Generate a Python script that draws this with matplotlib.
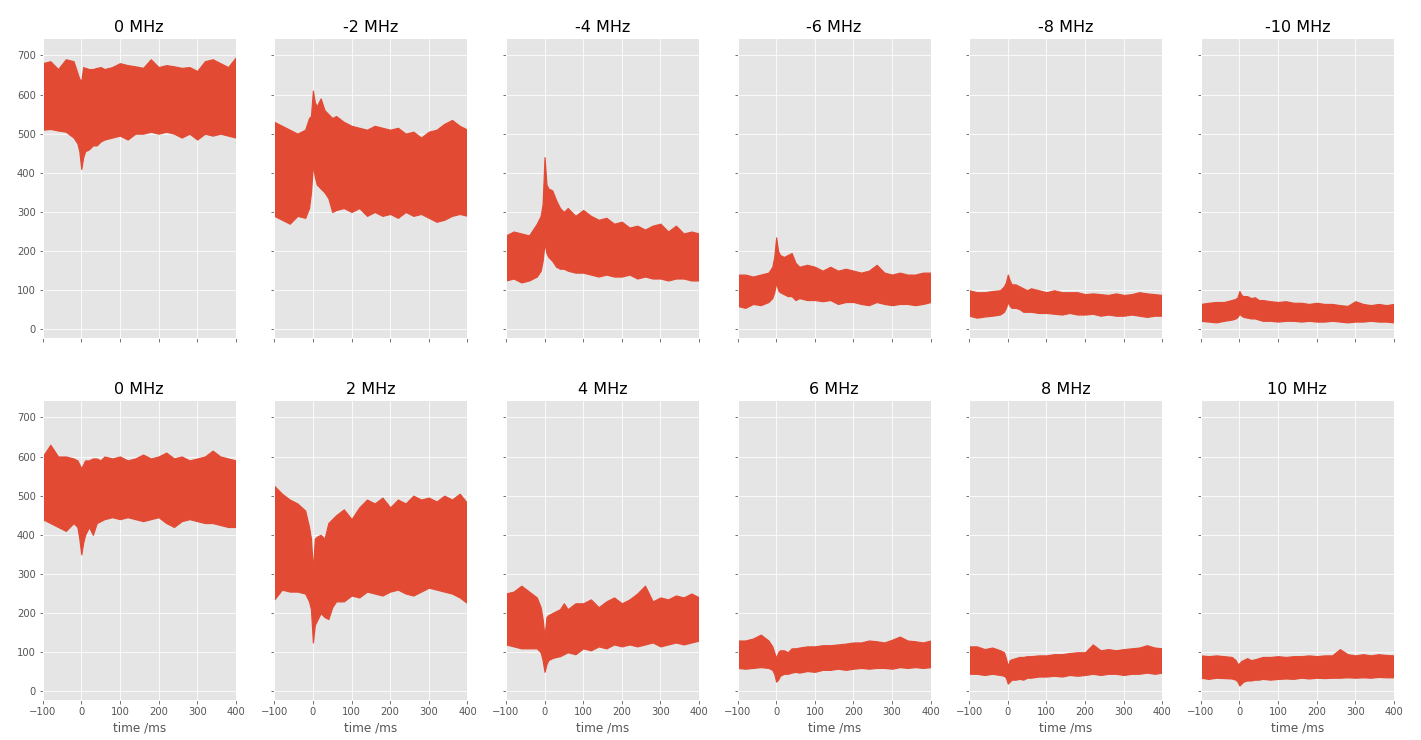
import numpy as np
import matplotlib.pyplot as plt

plt.style.use('ggplot')

# sample times (ms) at which the noise band edges were read
t = [-100, -80, -60, -40, -20, -10, -5, 0, 5, 10, 20, 30, 40, 50, 60, 80,
     100, 120, 140, 160, 180, 200, 220, 240, 260, 280, 300, 320, 340, 360, 380, 400]

# top row: 0, -2, ..., -10 MHz  (upper / lower edge of the trace)
up_n0 = [680, 685, 665, 690, 685, 655, 640, 635, 670, 668, 665, 665, 668, 670, 665, 670,
         680, 675, 672, 668, 690, 670, 675, 672, 668, 670, 660, 685, 690, 680, 670, 695]
lo_n0 = [510, 512, 508, 505, 490, 475, 455, 410, 440, 455, 460, 470, 470, 480, 485, 490,
         495, 485, 500, 500, 505, 500, 505, 500, 490, 500, 485, 500, 495, 500, 495, 490]
up_n2 = [530, 520, 510, 500, 510, 540, 545, 610, 580, 570, 590, 560, 550, 540, 545, 530,
         520, 515, 510, 520, 515, 510, 515, 500, 505, 490, 505, 510, 525, 535, 520, 510]
lo_n2 = [290, 280, 270, 290, 285, 310, 350, 420, 390, 370, 360, 350, 335, 300, 305, 310,
         300, 310, 290, 300, 290, 295, 285, 300, 290, 295, 285, 275, 280, 290, 295, 290]
up_n4 = [240, 250, 245, 240, 270, 290, 320, 440, 370, 360, 355, 330, 310, 300, 310, 290,
         305, 290, 280, 285, 270, 275, 260, 265, 255, 265, 270, 250, 265, 245, 250, 245]
lo_n4 = [125, 130, 120, 125, 135, 150, 175, 220, 195, 185, 175, 160, 155, 155, 150, 145,
         145, 140, 135, 140, 135, 135, 140, 130, 135, 130, 130, 125, 130, 130, 125, 125]
up_n6 = [140, 140, 135, 140, 145, 160, 185, 235, 200, 190, 185, 190, 195, 170, 160, 165,
         160, 150, 160, 150, 155, 150, 145, 150, 165, 145, 140, 145, 140, 140, 145, 145]
lo_n6 = [60, 55, 65, 62, 70, 80, 95, 120, 100, 95, 90, 85, 85, 75, 80, 75,
         75, 72, 75, 65, 70, 70, 65, 62, 70, 65, 62, 65, 65, 62, 65, 70]
up_n8 = [100, 95, 95, 98, 100, 110, 120, 140, 125, 115, 115, 110, 105, 100, 105, 100,
         95, 100, 95, 95, 95, 90, 92, 90, 88, 92, 88, 90, 95, 92, 90, 88]
lo_n8 = [35, 30, 33, 35, 38, 45, 55, 70, 60, 55, 55, 52, 45, 45, 45, 42,
         42, 40, 38, 42, 38, 38, 40, 35, 38, 35, 35, 38, 35, 32, 35, 35]
up_n10 = [65, 68, 70, 70, 75, 78, 82, 98, 88, 85, 85, 80, 82, 75, 75, 72,
          70, 72, 68, 68, 65, 68, 65, 65, 62, 60, 72, 65, 62, 65, 62, 65]
lo_n10 = [22, 20, 18, 22, 25, 28, 32, 40, 35, 32, 30, 28, 28, 25, 22, 22,
          20, 22, 22, 20, 22, 20, 20, 22, 20, 18, 20, 20, 22, 20, 20, 18]

# bottom row: 0, 2, ..., 10 MHz
up_p0 = [600, 630, 600, 600, 595, 590, 580, 570, 580, 590, 590, 595, 595, 590, 600, 595,
         600, 590, 595, 605, 595, 600, 610, 595, 600, 590, 595, 600, 615, 600, 595, 590]
lo_p0 = [440, 430, 420, 410, 430, 420, 390, 350, 380, 400, 420, 400, 430, 435, 440, 445,
         440, 445, 440, 435, 440, 445, 430, 420, 435, 440, 435, 430, 430, 425, 420, 420]
up_p2 = [525, 505, 490, 480, 462, 420, 390, 310, 390, 395, 400, 390, 430, 440, 450, 465,
         440, 470, 490, 480, 495, 470, 490, 480, 500, 490, 495, 485, 500, 490, 505, 480]
lo_p2 = [235, 260, 255, 255, 250, 230, 210, 125, 170, 180, 200, 190, 185, 215, 230, 230,
         245, 240, 255, 250, 245, 255, 260, 250, 245, 255, 265, 260, 255, 250, 240, 225]
up_p4 = [250, 255, 270, 255, 240, 215, 185, 140, 190, 195, 200, 205, 210, 225, 210, 225,
         225, 235, 215, 230, 240, 225, 235, 250, 270, 230, 240, 235, 245, 240, 250, 240]
lo_p4 = [120, 115, 110, 110, 110, 100, 80, 50, 70, 80, 85, 88, 90, 95, 100, 95,
         110, 105, 115, 110, 120, 115, 120, 115, 120, 125, 115, 120, 125, 120, 125, 130]
up_p6 = [130, 130, 135, 145, 130, 115, 100, 85, 100, 105, 105, 100, 110, 110, 112, 115,
         115, 118, 118, 120, 122, 125, 125, 130, 128, 125, 132, 140, 130, 128, 125, 130]
lo_p6 = [60, 58, 60, 62, 60, 55, 45, 25, 30, 40, 45, 45, 48, 50, 48, 52,
         50, 55, 55, 58, 55, 58, 60, 58, 60, 60, 58, 62, 60, 62, 60, 62]
up_p8 = [115, 115, 108, 112, 105, 100, 85, 65, 80, 82, 85, 88, 88, 90, 90, 92,
         92, 95, 95, 98, 100, 100, 120, 105, 108, 105, 108, 110, 112, 118, 112, 110]
lo_p8 = [45, 45, 42, 45, 42, 40, 35, 20, 25, 30, 30, 32, 30, 35, 35, 38,
         38, 40, 38, 42, 40, 42, 45, 42, 45, 45, 42, 45, 45, 48, 45, 48]
up_p10 = [92, 90, 92, 90, 88, 80, 70, 72, 78, 80, 85, 80, 82, 85, 88, 88,
          90, 88, 90, 90, 92, 90, 92, 92, 108, 95, 92, 95, 92, 95, 93, 92]
lo_p10 = [35, 32, 35, 34, 33, 30, 25, 15, 20, 25, 28, 28, 30, 30, 32, 30,
          32, 33, 32, 35, 33, 35, 34, 35, 35, 36, 35, 36, 35, 37, 36, 36]

top_titles = ['0 MHz', '-2 MHz', '-4 MHz', '-6 MHz', '-8 MHz', '-10 MHz']
bot_titles = ['0 MHz', '2 MHz', '4 MHz', '6 MHz', '8 MHz', '10 MHz']
top_bands = [(up_n0, lo_n0), (up_n2, lo_n2), (up_n4, lo_n4),
             (up_n6, lo_n6), (up_n8, lo_n8), (up_n10, lo_n10)]
bot_bands = [(up_p0, lo_p0), (up_p2, lo_p2), (up_p4, lo_p4),
             (up_p6, lo_p6), (up_p8, lo_p8), (up_p10, lo_p10)]

fig, axes = plt.subplots(2, 6, sharex=True, sharey=True,
                         figsize=(1421 / 72, 740 / 72), dpi=72)
fig.subplots_adjust(left=0.030, right=0.981, top=0.949, bottom=0.0535,
                    wspace=0.199, hspace=0.204)

red = '#E24A33'
for row, titles, bands in [(0, top_titles, top_bands), (1, bot_titles, bot_bands)]:
    for col in range(6):
        ax = axes[row, col]
        up, lo = bands[col]
        ax.fill_between(t, lo, up, color=red, linewidth=1.2, edgecolor=red)
        ax.set_title(titles[col], fontsize=16)
        if row == 1:
            ax.set_xlabel('time /ms', fontsize=12)

axes[0, 0].set_xlim(-100, 400)
axes[0, 0].set_ylim(-23, 745)
axes[0, 0].set_xticks(np.arange(-100, 401, 100))
axes[0, 0].set_yticks(np.arange(0, 701, 100))

plt.savefig('out.png', dpi=72)
